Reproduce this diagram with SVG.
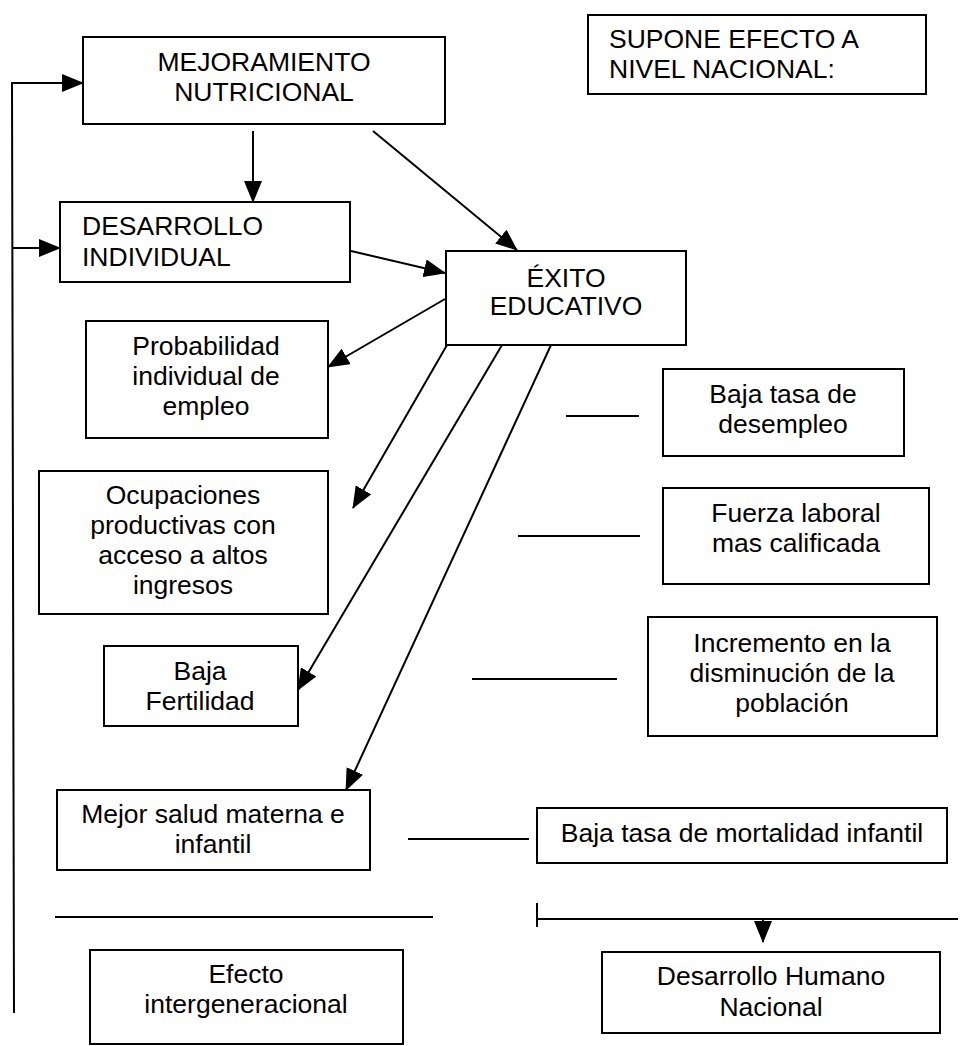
<svg xmlns="http://www.w3.org/2000/svg" width="960" height="1046" viewBox="0 0 960 1046">
<defs>
<marker id="ah" markerUnits="userSpaceOnUse" markerWidth="22" markerHeight="18" refX="21" refY="9" orient="auto">
<path d="M0,0 L22,9 L0,18 z" fill="#000"/>
</marker>
<style>
.box{fill:#fff;stroke:#000;stroke-width:2}
.t{font-family:"Liberation Sans",Arial,sans-serif;font-size:26.5px;fill:#000}
.c{text-anchor:middle}
.ln{stroke:#000;stroke-width:2;fill:none}
.ar{stroke:#000;stroke-width:2;fill:none;marker-end:url(#ah)}
</style>
</defs>
<rect width="960" height="1046" fill="#fff"/>

<g id="connectors">
<polyline class="ln" points="83,83 12,83 14,1013"/>
<line class="ar" x1="12" y1="83" x2="83" y2="83"/>
<line class="ar" x1="13" y1="248" x2="60" y2="248"/>
<line class="ar" x1="253" y1="131" x2="253" y2="202"/>
<line class="ar" x1="373" y1="131" x2="517" y2="250"/>
<line class="ar" x1="351" y1="251" x2="445" y2="273"/>
<line class="ar" x1="445" y1="299" x2="328" y2="367"/>
<line class="ar" x1="447" y1="345" x2="353" y2="508"/>
<line class="ar" x1="502" y1="345" x2="298" y2="690"/>
<line class="ar" x1="551" y1="345" x2="346" y2="790"/>
<line class="ln" x1="566" y1="416" x2="639" y2="416"/>
<line class="ln" x1="518" y1="536" x2="640" y2="536"/>
<line class="ln" x1="472" y1="679" x2="617" y2="679"/>
<line class="ln" x1="408" y1="839" x2="529" y2="839"/>
<line class="ln" x1="55" y1="917" x2="433" y2="917"/>
<line class="ln" x1="537" y1="919" x2="958" y2="919"/>
<line class="ln" x1="537" y1="903" x2="537" y2="927"/>
<line class="ar" x1="763" y1="919" x2="763" y2="942"/>
</g>

<g id="mejoramiento">
<rect class="box" x="83" y="37" width="362" height="87"/>
<text class="t c" x="264" y="71">MEJORAMIENTO</text>
<text class="t c" x="264" y="101">NUTRICIONAL</text>
</g>

<g id="desarrollo-individual">
<rect class="box" x="60" y="202" width="290" height="80"/>
<text class="t" x="82" y="235">DESARROLLO</text>
<text class="t" x="82" y="266">INDIVIDUAL</text>
</g>

<g id="exito">
<rect class="box" x="446" y="251" width="240" height="94"/>
<text class="t c" x="566" y="287">ÉXITO</text>
<text class="t c" x="566" y="315">EDUCATIVO</text>
</g>

<g id="supone">
<rect class="box" x="588" y="15" width="338" height="79"/>
<text class="t" x="609" y="48">SUPONE EFECTO A</text>
<text class="t" x="609" y="78">NIVEL NACIONAL:</text>
</g>

<g id="probabilidad">
<rect class="box" x="86" y="321" width="242" height="117"/>
<text class="t c" x="206" y="355">Probabilidad</text>
<text class="t c" x="206" y="385">individual de</text>
<text class="t c" x="206" y="415">empleo</text>
</g>

<g id="ocupaciones">
<rect class="box" x="39" y="471" width="289" height="143"/>
<text class="t c" x="183" y="504">Ocupaciones</text>
<text class="t c" x="183" y="534">productivas con</text>
<text class="t c" x="183" y="564">acceso a altos</text>
<text class="t c" x="183" y="594">ingresos</text>
</g>

<g id="baja-fertilidad">
<rect class="box" x="104" y="646" width="194" height="80"/>
<text class="t c" x="200" y="680">Baja</text>
<text class="t c" x="200" y="710">Fertilidad</text>
</g>

<g id="mejor-salud">
<rect class="box" x="57" y="790" width="313" height="80"/>
<text class="t c" x="213" y="823">Mejor salud materna e</text>
<text class="t c" x="213" y="853">infantil</text>
</g>

<g id="efecto">
<rect class="box" x="90" y="950" width="313" height="94"/>
<text class="t c" x="246" y="983">Efecto</text>
<text class="t c" x="246" y="1013">intergeneracional</text>
</g>

<g id="desempleo">
<rect class="box" x="663" y="369" width="241" height="87"/>
<text class="t c" x="783" y="403">Baja tasa de</text>
<text class="t c" x="783" y="433">desempleo</text>
</g>

<g id="fuerza-laboral">
<rect class="box" x="663" y="488" width="266" height="96"/>
<text class="t c" x="796" y="522">Fuerza laboral</text>
<text class="t c" x="796" y="552">mas calificada</text>
</g>

<g id="incremento">
<rect class="box" x="648" y="617" width="289" height="119"/>
<text class="t c" x="792" y="652">Incremento en la</text>
<text class="t c" x="792" y="682">disminución de la</text>
<text class="t c" x="792" y="712">población</text>
</g>

<g id="mortalidad">
<rect class="box" x="537" y="808" width="410" height="55"/>
<text class="t c" x="742" y="842">Baja tasa de mortalidad infantil</text>
</g>

<g id="desarrollo-humano">
<rect class="box" x="602" y="952" width="338" height="81"/>
<text class="t c" x="771" y="985">Desarrollo Humano</text>
<text class="t c" x="771" y="1016">Nacional</text>
</g>
</svg>
